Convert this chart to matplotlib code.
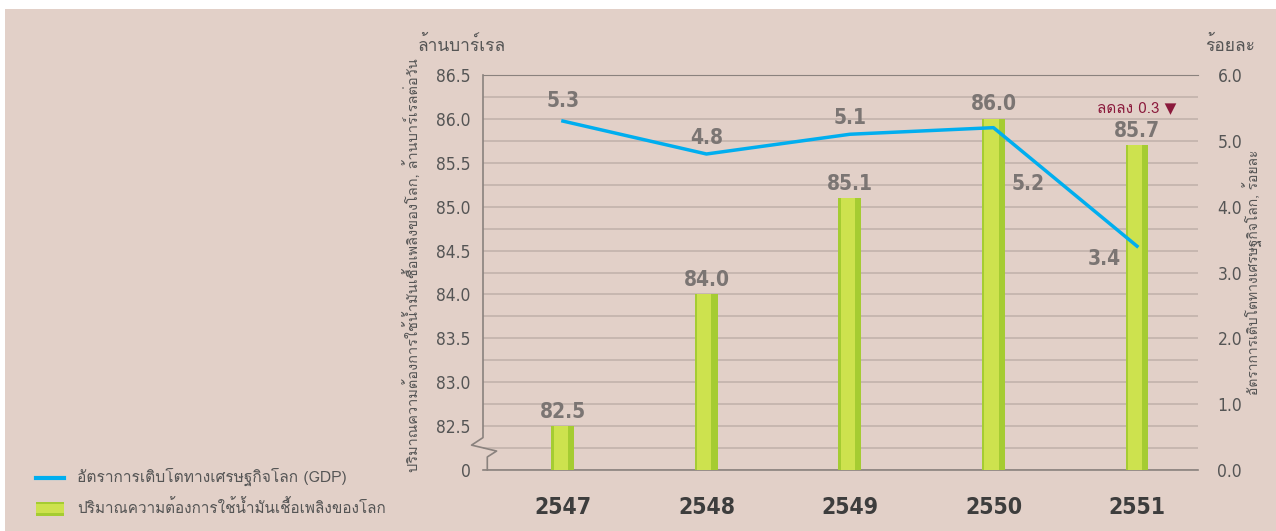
import matplotlib
matplotlib.use("Agg")
import matplotlib.pyplot as plt
from matplotlib import font_manager
from matplotlib.ft2font import FT2Font
from matplotlib.patches import Rectangle
import numpy as np

# data
years = ["2547", "2548", "2549", "2550", "2551"]
oil_demand = [82.5, 84.0, 85.1, 86.0, 85.7]      # million barrels / day
gdp_growth = [5.3, 4.8, 5.1, 5.2, 3.4]           # percent
left_ticks = [82.0, 82.5, 83.0, 83.5, 84.0, 84.5, 85.0, 85.5, 86.0, 86.5]
left_tick_labels = ["0", "82.5", "83.0", "83.5", "84.0", "84.5", "85.0", "85.5", "86.0", "86.5"]
right_ticks = [0, 1, 2, 3, 4, 5, 6]


def find_thai_font():
    for f in font_manager.fontManager.ttflist:
        try:
            cmap = FT2Font(f.fname).get_charmap()
        except Exception:
            continue
        if 0x0E01 in cmap and 0x0E49 in cmap:
            return f.name
    return "DejaVu Sans"


thai = find_thai_font()
names = {f.name for f in font_manager.fontManager.ttflist}
num_font = "Liberation Sans Narrow" if "Liberation Sans Narrow" in names else "DejaVu Sans"
plt.rcParams['font.family'] = [thai, "DejaVu Sans"]
num_kw = dict(fontfamily=num_font, fontstretch="condensed")

bg = "#e2d0c8"
grid_c = "#c2b3ac"
spine_c = "#8a827e"
text_c = "#555555"
cyan = "#00aeef"
bar_light = "#cde24e"
bar_dark = "#a5cc32"

fig = plt.figure(figsize=(12.76, 5.31), dpi=100, facecolor="white")
fig.patches.append(Rectangle((5 / 1276, 0), 1, 1 - 9 / 531, transform=fig.transFigure,
                             facecolor=bg, edgecolor="none", zorder=-10))

ax = fig.add_axes([483 / 1276, 61 / 531, 715 / 1276, 395 / 531])
ax.set_facecolor("none")
x = np.arange(len(years))

# bars: darker stripe under a lighter face
ax.bar(x, np.array(oil_demand) - 82.0, bottom=82.0, width=0.16, color=bar_dark, zorder=3)
ax.bar(x - 0.015, np.array(oil_demand) - 82.0, bottom=82.0, width=0.10, color=bar_light, zorder=4)

ax.set_xlim(-0.557, 4.425)
ax.set_ylim(82.0, 86.5)
ax.set_yticks(left_ticks)
ax.set_yticklabels(left_tick_labels, fontsize=12.5, color=text_c, **num_kw)
ax.set_yticks(np.arange(82.0, 86.51, 0.25), minor=True)
ax.yaxis.grid(True, which="both", color=grid_c, linewidth=1.2, zorder=0)
ax.tick_params(axis="y", which="both", length=0, pad=9)
ax.set_xticks(x)
ax.set_xticklabels(years, fontsize=16.5, fontweight="bold", color="#3d3d3d", **num_kw)
ax.tick_params(axis="x", length=0, pad=19)

for s in ["right", "left"]:
    ax.spines[s].set_visible(False)
ax.spines["top"].set_color(spine_c)
ax.spines["bottom"].set_color(spine_c)
ax.spines["bottom"].set_linewidth(1.2)

# left spine with break
bx = [0, 0, -0.016, 0.019, 0.006, 0.006]
by = [1, 0.082, 0.063, 0.048, 0.033, 0]
ax.plot(bx, by, transform=ax.transAxes, color=spine_c, lw=1.2, clip_on=False, zorder=5)

for xi, v in zip(x, oil_demand):
    ax.text(xi, v + 0.05, f"{v:.1f}", ha="center", va="bottom", fontsize=15,
            fontweight="bold", color="#7b7573", zorder=6, **num_kw)

ax2 = ax.twinx()
ax2.set_ylim(0, 6)
ax2.set_yticks(right_ticks)
ax2.set_yticklabels([f"{t:.1f}" for t in right_ticks], fontsize=12.5, color=text_c, **num_kw)
ax2.tick_params(axis="y", length=0, pad=14)
for s in ax2.spines.values():
    s.set_visible(False)
ax2.plot(x, gdp_growth, color=cyan, lw=2.5, zorder=7)

offsets = [(0, 0.3), (0, 0.25), (0, 0.25), (0.24, -0.85), (-0.23, -0.2)]
for xi, v, (dx, dy) in zip(x, gdp_growth, offsets):
    ax2.text(xi + dx, v + dy, f"{v:.1f}", ha="center", va="center", fontsize=15,
             fontweight="bold", color="#7b7573", zorder=8, **num_kw)

ax2.text(4.0, 5.5, "ลดลง 0.3 ▼", ha="center", va="center", fontsize=11, color="#8b1a3c")

# axis titles
fig.text(418 / 1276, 1 - 45 / 531, "ล้านบาร์เรล", ha="left", va="center", fontsize=12.5, color=text_c)
fig.text(1205 / 1276, 1 - 45 / 531, "ร้อยละ", ha="left", va="center", fontsize=12.5, color=text_c)
fig.text(413 / 1276, 1 - 265 / 531, "ปริมาณความต้องการใช้น้ำมันเชื้อเพลิงของโลก, ล้านบาร์เรลต่อวัน",
         rotation=90, ha="center", va="center", fontsize=10.5, color=text_c)
fig.text(1253 / 1276, 1 - 272 / 531, "อัตราการเติบโตทางเศรษฐกิจโลก, ร้อยละ",
         rotation=90, ha="center", va="center", fontsize=10, color=text_c)

# legend
fig.add_artist(plt.Line2D([36 / 1276, 64 / 1276], [1 - 478 / 531] * 2, color=cyan, lw=3))
fig.text(77 / 1276, 1 - 477 / 531, "อัตราการเติบโตทางเศรษฐกิจโลก (GDP)", ha="left", va="center",
         fontsize=11.2, color=text_c)
fig.patches.append(Rectangle((36 / 1276, 1 - 516 / 531), 28 / 1276, 14 / 531, transform=fig.transFigure,
                             facecolor=bar_dark, edgecolor="none"))
fig.patches.append(Rectangle((36 / 1276, 1 - 513 / 531), 28 / 1276, 9 / 531, transform=fig.transFigure,
                             facecolor=bar_light, edgecolor="none"))
fig.text(77 / 1276, 1 - 508 / 531, "ปริมาณความต้องการใช้น้ำมันเชื้อเพลิงของโลก", ha="left", va="center",
         fontsize=11, color=text_c)

fig.savefig("out.png", dpi=100, facecolor="white")
